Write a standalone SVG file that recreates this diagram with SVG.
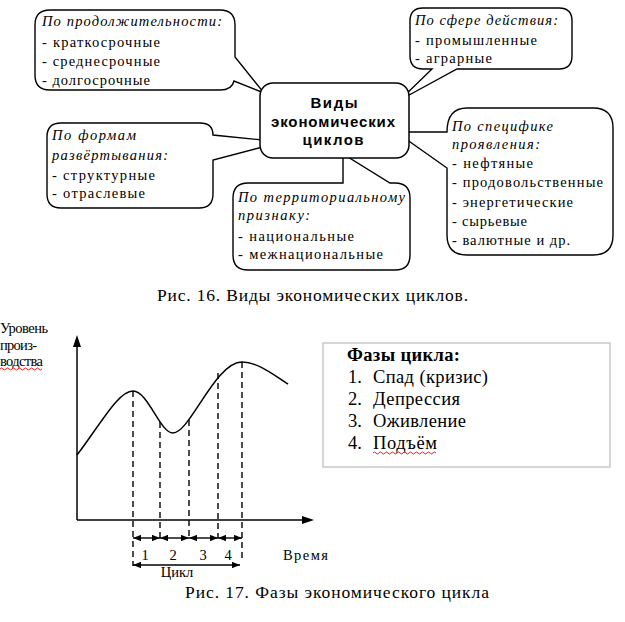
<svg xmlns="http://www.w3.org/2000/svg" width="625" height="622" viewBox="0 0 625 622">
<style>
.co{fill:#fff;stroke:#000;stroke-width:1.4;stroke-linejoin:miter}
.t{font-family:"Liberation Serif","Times New Roman",serif;font-size:14.5px;fill:#000}
.i{font-style:italic}
.c{font-family:"Liberation Sans",Arial,sans-serif;font-weight:bold;font-size:15px;fill:#000;text-anchor:middle}
.cap{font-family:"Liberation Serif","Times New Roman",serif;font-size:17.5px;fill:#000}
.lg{font-family:"Liberation Serif","Times New Roman",serif;font-size:18.5px;fill:#000}
.ax{stroke:#000;stroke-width:1.5;fill:none}
.ds{stroke:#000;stroke-width:1.4;stroke-dasharray:6 4;fill:none}
.ar{stroke:#000;stroke-width:1.4;fill:none;marker-start:url(#ah);marker-end:url(#ah)}
.sq{stroke:#e00;stroke-width:0.9;fill:none}
</style>
<defs>
<marker id="ah" viewBox="0 0 10 8" refX="10" refY="4" markerWidth="8" markerHeight="6.4" markerUnits="userSpaceOnUse" orient="auto-start-reverse">
<path d="M0,0 L10,4 L0,8 Z" fill="#000"/>
</marker>
</defs>

<g id="callout-duration">
<path class="co" d="M50,10 H220 Q235,10 235,25 V57 L264,93 L234,81 Q232,90 220,90 H50 Q35,90 35,75 V25 Q35,10 50,10 Z"/>
<text class="t i" x="42" y="26" textLength="180" lengthAdjust="spacing">По продолжительности:</text>
<text class="t" x="42" y="47" textLength="118" lengthAdjust="spacing">- краткосрочные</text>
<text class="t" x="42" y="66" textLength="118" lengthAdjust="spacing">- среднесрочные</text>
<text class="t" x="42" y="85" textLength="108" lengthAdjust="spacing">- долгосрочные</text>
</g>

<g id="callout-sphere">
<path class="co" d="M423,8 H559 Q572,8 572,21 V56 Q572,69 559,69 H457 L400,100 L432,69 H423 Q410,69 410,56 V21 Q410,8 423,8 Z"/>
<text class="t i" x="415" y="25" textLength="143" lengthAdjust="spacing">По сфере действия:</text>
<text class="t" x="415" y="45" textLength="122" lengthAdjust="spacing">- промышленные</text>
<text class="t" x="415" y="63" textLength="77" lengthAdjust="spacing">- аграрные</text>
</g>

<g id="callout-forms">
<path class="co" d="M61,123 H200 Q213,123 213,135 L282,142 L213,160 V194 Q213,208 199,208 H61 Q47,208 47,194 V137 Q47,123 61,123 Z"/>
<text class="t i" x="52" y="140" textLength="84" lengthAdjust="spacing">По формам</text>
<text class="t i" x="52" y="160" textLength="116" lengthAdjust="spacing">развёртывания:</text>
<text class="t" x="52" y="180" textLength="103" lengthAdjust="spacing">- структурные</text>
<text class="t" x="52" y="198" textLength="93" lengthAdjust="spacing">- отраслевые</text>
</g>

<g id="callout-territory">
<path class="co" d="M248,183 H343 V154 L390,183 H395 Q410,183 410,198 V255 Q410,270 395,270 H248 Q233,270 233,255 V198 Q233,183 248,183 Z"/>
<text class="t i" x="238" y="202" textLength="167" lengthAdjust="spacing">По территориальному</text>
<text class="t i" x="238" y="220" textLength="72" lengthAdjust="spacing">признаку:</text>
<text class="t" x="238" y="241" textLength="116" lengthAdjust="spacing">- национальные</text>
<text class="t" x="238" y="259" textLength="145" lengthAdjust="spacing">- межнациональные</text>
</g>

<g id="callout-specific">
<path class="co" d="M467,108 H593 Q613,108 613,128 V235 Q613,255 593,255 H467 Q447,255 447,235 V168 L396,132 L447,132 Q447,108 467,108 Z"/>
<text class="t i" x="452" y="131" textLength="101" lengthAdjust="spacing">По специфике</text>
<text class="t i" x="452" y="149" textLength="88" lengthAdjust="spacing">проявления:</text>
<text class="t" x="452" y="168" textLength="81" lengthAdjust="spacing">- нефтяные</text>
<text class="t" x="452" y="187" textLength="151" lengthAdjust="spacing">- продовольственные</text>
<text class="t" x="452" y="207" textLength="121" lengthAdjust="spacing">- энергетические</text>
<text class="t" x="452" y="226" textLength="75" lengthAdjust="spacing">- сырьевые</text>
<text class="t" x="452" y="245" textLength="118" lengthAdjust="spacing">- валютные и др.</text>
</g>

<g id="central">
<rect x="260" y="83" width="149" height="75" rx="13" fill="#fff" stroke="#000" stroke-width="1.5"/>
<text class="c" x="334" y="108" textLength="47" lengthAdjust="spacing">Виды</text>
<text class="c" x="333" y="127" textLength="124" lengthAdjust="spacing">экономических</text>
<text class="c" x="333" y="145" textLength="61" lengthAdjust="spacing">циклов</text>
</g>

<text class="cap" x="157" y="301" textLength="311" lengthAdjust="spacing">Рис. 16. Виды экономических циклов.</text>

<g id="chart">
<line class="ax" x1="77" y1="520" x2="77" y2="345"/>
<path d="M77,335 L73,347 L81,347 Z" fill="#000"/>
<line class="ax" x1="77" y1="520" x2="303" y2="520"/>
<path d="M314,520 L302,516 L302,524 Z" fill="#000"/>
<path class="ax" d="M77,455 C100,425 118,391 133,391 C148,391 160,433 173,433 C190,433 215,362 242,362 C258,362 275,376 288,384"/>
<line class="ds" x1="133" y1="391" x2="133" y2="566"/>
<line class="ds" x1="160" y1="422" x2="160" y2="538"/>
<line class="ds" x1="189" y1="420" x2="189" y2="538"/>
<line class="ds" x1="218" y1="373" x2="218" y2="538"/>
<line class="ds" x1="242" y1="362" x2="242" y2="562"/>
<text class="t" x="0" y="333" font-size="14" textLength="48" lengthAdjust="spacing">Уровень</text>
<text class="t" x="0" y="350" font-size="14" textLength="37" lengthAdjust="spacing">произ-</text>
<text class="t" x="0" y="366" font-size="14" textLength="43" lengthAdjust="spacing">водства</text>
<path class="sq" d="M0,369 q1.5,-2 3,0 t3,0 t3,0 t3,0 t3,0 t3,0 t3,0 t3,0 t3,0 t3,0 t3,0 t3,0 t3,0 t3,0"/>
<text class="t" x="145" y="560" text-anchor="middle">1</text>
<text class="t" x="173" y="560" text-anchor="middle">2</text>
<text class="t" x="203" y="560" text-anchor="middle">3</text>
<text class="t" x="228" y="560" text-anchor="middle">4</text>
<text class="t" x="283" y="560" font-size="15" textLength="45" lengthAdjust="spacing">Время</text>
<text class="t" x="177" y="577" text-anchor="middle">Цикл</text>
</g>

<g id="connectors">
<line class="ar" x1="133" y1="538" x2="160" y2="538"/>
<line class="ar" x1="160" y1="538" x2="189" y2="538"/>
<line class="ar" x1="189" y1="538" x2="218" y2="538"/>
<line class="ar" x1="218" y1="538" x2="242" y2="538"/>
<line class="ar" x1="133" y1="565" x2="240" y2="565"/>
</g>

<g id="legend">
<rect x="323" y="343" width="287" height="124" fill="#fff" stroke="#c0c0c0" stroke-width="1.3"/>
<text class="lg" x="347" y="361" font-weight="bold" textLength="113" lengthAdjust="spacing">Фазы цикла:</text>
<text class="lg" x="348" y="383">1.</text>
<text class="lg" x="373" y="383" textLength="115" lengthAdjust="spacing">Спад  (кризис)</text>
<text class="lg" x="348" y="405">2.</text>
<text class="lg" x="373" y="405" textLength="87" lengthAdjust="spacing">Депрессия</text>
<text class="lg" x="348" y="427">3.</text>
<text class="lg" x="373" y="427" textLength="93" lengthAdjust="spacing">Оживление</text>
<text class="lg" x="348" y="449">4.</text>
<text class="lg" x="373" y="449" textLength="64" lengthAdjust="spacing">Подъём</text>
<path class="sq" d="M373,453 q1.5,-2 3,0 t3,0 t3,0 t3,0 t3,0 t3,0 t3,0 t3,0 t3,0 t3,0 t3,0 t3,0 t3,0 t3,0 t3,0 t3,0 t3,0 t3,0 t3,0 t3,0 t3,0"/>
</g>

<text class="cap" x="185" y="598" textLength="304" lengthAdjust="spacing">Рис. 17. Фазы экономического цикла</text>
</svg>
